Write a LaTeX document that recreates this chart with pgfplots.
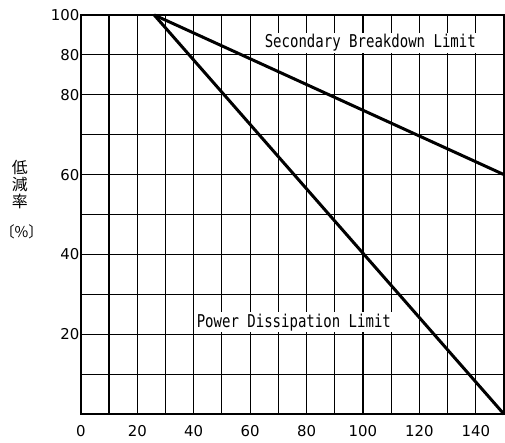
\documentclass[border=0pt]{standalone}
\usepackage{fontspec}
\setmainfont{DejaVu Sans}
\newfontfamily\cjk{Noto Sans CJK JP}
\newfontfamily\labfont{DejaVu Sans Mono}
\usepackage{graphicx}
\usepackage{pgfplots}
\pgfplotsset{compat=1.18}
\begin{document}
\begin{tikzpicture}[x=1bp,y=1bp]
\path[use as bounding box] (-81,-28) rectangle (425,415);
\begin{axis}[at={(0,0)}, anchor=south west, scale only axis,
  width=424bp, height=400bp,
  xmin=0, xmax=150, ymin=0, ymax=100,
  xtick={0,20,...,140}, minor xtick={10,30,...,150},
  ytick={20,40,60,80,90,100}, yticklabels={20,40,60,80,80,100},
  minor ytick={10,30,50,70},
  grid=both, grid style={black, line width=1.2bp},
  minor grid style={black, line width=1.2bp},
  major tick length=0pt, minor tick length=0pt,
  axis line style={line width=2.5bp},
  tick label style={font=\fontsize{15}{15}\selectfont},
  xticklabel style={yshift=-8bp},
  yticklabel style={xshift=2bp},
  /pgf/number format/assume math mode=true,
  clip=false]
\addplot[black, line width=3bp] coordinates {(26,100) (150,60)};
\addplot[black, line width=3bp] coordinates {(26,100) (150,0)};
\node[fill=white, inner sep=1.5bp, font=\labfont\fontsize{14.1}{14}\selectfont] at (axis cs:102.6,93) {\scalebox{1}[1.26]{Secondary Breakdown Limit}};
\node[fill=white, inner sep=1.5bp, font=\labfont\fontsize{14.1}{14}\selectfont] at (axis cs:75.5,23) {\scalebox{1}[1.26]{Power Dissipation Limit}};
\node[font=\cjk\fontsize{16}{16}\selectfont] at (axis cs:-21.6,61.8) {低};
\node[font=\cjk\fontsize{16}{16}\selectfont] at (axis cs:-21.6,57.5) {減};
\node[font=\cjk\fontsize{16}{16}\selectfont] at (axis cs:-21.6,53.2) {率};
\node[font=\cjk\fontsize{15}{15}\selectfont] at (axis cs:-21,45.8) {〔\%〕};
\end{axis}
\end{tikzpicture}
\end{document}
